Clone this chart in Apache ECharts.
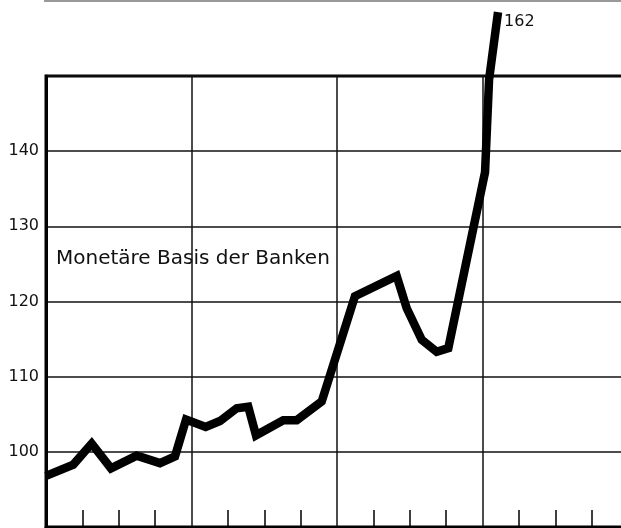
<!DOCTYPE html>
<html>
<head>
<meta charset="utf-8">
<script src="https://cdn.jsdelivr.net/npm/echarts@6/dist/echarts.min.js"></script>
<style>
  html, body { margin: 0; padding: 0; background: #fff; }
  #chart { width: 621px; height: 528px; }
</style>
</head>
<body>
<div id="chart"></div>
<script>
(function () {
    // Monate ab Beginn (Zeitachse, 4 Jahre zu je 12 Monaten)
    var months = [0, 2.25, 3.77, 5.36, 7.48, 9.40, 10.64, 11.55, 13.17, 14.35, 15.73, 16.68,
        17.32, 19.57, 20.68, 22.74, 25.48, 28.92, 29.75, 30.99, 32.22, 33.18, 36.21, 36.54, 37.28];
    // Index-Werte der monetären Basis
    var values = [96.8, 98.3, 101.1, 97.8, 99.5, 98.5, 99.4, 104.3, 103.3, 104.1, 105.8, 106.0,
        102.2, 104.2, 104.2, 106.7, 120.7, 123.4, 119.1, 114.9, 113.3, 113.8, 137.2, 149.5, 158.5];
    var yTicks = [90, 100, 110, 120, 130, 140, 150];
    var seriesName = 'Monetäre Basis der Banken';
    var endValueText = '162';

    var data = [];
    for (var i = 0; i < months.length; i++) {
        data.push([months[i], values[i]]);
    }

    var font = '"DejaVu Sans", "Liberation Sans", sans-serif';
    var chart = echarts.init(document.getElementById('chart'));
    chart.setOption({
        animation: false,
        grid: {
            left: 46,
            top: 76,
            width: 582,
            height: 451,
            outerBoundsMode: 'none',
            show: true,
            borderColor: '#000',
            borderWidth: 3
        },
        xAxis: {
            type: 'value',
            min: 0,
            max: 48,
            interval: 12,
            axisLine: { show: true, lineStyle: { color: '#000', width: 3 } },
            axisTick: { show: false, inside: true },
            minorTick: { show: true, splitNumber: 4, length: 17, lineStyle: { color: '#000', width: 1.5 } },
            axisLabel: { show: false },
            splitLine: { show: true, lineStyle: { color: '#111', width: 1.5 } }
        },
        yAxis: {
            type: 'value',
            min: yTicks[0],
            max: yTicks[yTicks.length - 1],
            interval: 10,
            axisLine: { show: true, lineStyle: { color: '#000', width: 3 } },
            axisTick: { show: false },
            axisLabel: {
                showMinLabel: false,
                showMaxLabel: false,
                color: '#111',
                fontFamily: font,
                fontSize: 16,
                margin: 7
            },
            splitLine: { show: true, lineStyle: { color: '#111', width: 1.5 } }
        },
        graphic: [
            {
                type: 'line',
                shape: { x1: 44, y1: 1, x2: 621, y2: 1 },
                style: { stroke: '#999', lineWidth: 2 }
            },
            {
                type: 'text',
                left: 56,
                top: 249,
                style: { text: seriesName, fill: '#111', font: '20px ' + font }
            }
        ],
        series: [{
            name: seriesName,
            type: 'line',
            data: data,
            clip: false,
            symbol: 'none',
            lineStyle: { color: '#000', width: 8.5, join: 'miter', cap: 'butt' },
            endLabel: {
                show: true,
                formatter: endValueText,
                color: '#111',
                fontFamily: font,
                fontSize: 16,
                distance: 6,
                offset: [0, 10]
            }
        }]
    });

    window.addEventListener('resize', function () {
        chart.resize();
    });
})();
</script>
</body>
</html>
